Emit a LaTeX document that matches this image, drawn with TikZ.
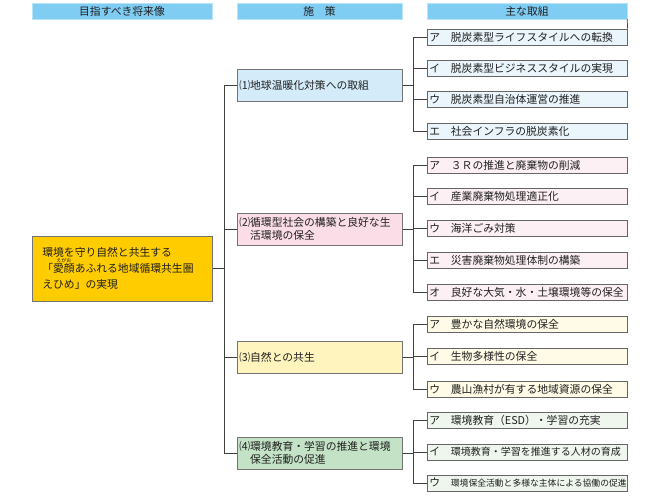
\documentclass[tikz,border=0pt]{standalone}
\usepackage{fontspec}
\setmainfont{Noto Sans CJK JP}
\usepackage{xcolor}
\usepackage{tikz}
\usetikzlibrary{positioning}
\usetikzlibrary{calc}

\definecolor{headblue}{HTML}{80CDF3}
\definecolor{goalgold}{HTML}{FFCC00}
\definecolor{blueA}{HTML}{D4ECFA}
\definecolor{blueB}{HTML}{EAF5FC}
\definecolor{pinkA}{HTML}{FBDDE8}
\definecolor{pinkB}{HTML}{FDF0F4}
\definecolor{yellowA}{HTML}{FFF4BD}
\definecolor{yellowB}{HTML}{FFFBE6}
\definecolor{greenA}{HTML}{C3E2C6}
\definecolor{greenB}{HTML}{EEF6EE}

\newcommand{\furi}[2]{\leavevmode\rlap{\makebox[2em]{\raisebox{0.95em}[0pt][0pt]{\fontsize{5}{5}\selectfont #2}}}#1}

\tikzset{
	jp/.style={font=\fontsize{10.8}{13}\selectfont, text=black!88},
	head/.style={jp, draw=headblue!55!white, fill=headblue, minimum height=16pt, inner sep=0pt},
	goal/.style={jp, draw=black!55, line width=0.7pt, fill=goalgold, text width=160pt, inner xsep=10pt, minimum height=65pt, align=left, anchor=west, font=\fontsize{10.8}{16}\selectfont},
	measure/.style={jp, draw=black!55, line width=0.7pt, text width=161pt, inner xsep=2pt, inner ysep=0pt, minimum height=32pt, align=left, anchor=west},
	item/.style={jp, draw=black!60, line width=0.6pt, text width=196pt, inner xsep=2pt, inner ysep=0pt, minimum height=16pt, align=left, anchor=west},
	branch/.style={draw=black!75, line width=0.7pt},
}

\begin{document}
\begin{tikzpicture}[x=1pt,y=-1pt]
		\useasboundingbox (0,0) rectangle (650,499);
		\node[head, minimum width=180pt] (h1) at (122,11) {目指すべき将来像};
		\node[head, minimum width=165pt] (h2) at (319.5,11) {施　策};
		\node[head, minimum width=200pt] (h3) at (527,11) {主な取組};
		
		\node[goal] (goal) at (32,268.5) {環境を守り自然と共生する\\「\furi{愛顔}{えがお}あふれる地域循環共生圏\\えひめ」の実現};
		
		\node[measure, fill=blueA] (m1) at (237,85) {⑴地球温暖化対策への取組};
		\node[measure, fill=pinkA] (m2) at (237,229) {⑵循環型社会の構築と良好な生\\\phantom{⑵}活環境の保全};
		\node[measure, fill=yellowA] (m3) at (237,357) {⑶自然との共生};
		\node[measure, fill=greenA] (m4) at (237,453) {⑷環境教育・学習の推進と環境\\\phantom{⑷}保全活動の促進};
		
		\node[item, fill=blueB] (a1) at (427,37) {ア　脱炭素型ライフスタイルへの転換};
		\node[item, fill=blueB] (b1) at (427,68) {イ　脱炭素型ビジネススタイルの実現};
		\node[item, fill=blueB] (c1) at (427,99) {ウ　脱炭素型自治体運営の推進};
		\node[item, fill=blueB] (d1) at (427,131) {エ　社会インフラの脱炭素化};
		
		\node[item, fill=pinkB] (a2) at (427,165) {ア　３Ｒの推進と廃棄物の削減};
		\node[item, fill=pinkB] (b2) at (427,196) {イ　産業廃棄物処理適正化};
		\node[item, fill=pinkB] (c2) at (427,228) {ウ　海洋ごみ対策};
		\node[item, fill=pinkB] (d2) at (427,260) {エ　災害廃棄物処理体制の構築};
		\node[item, fill=pinkB] (e2) at (427,292) {オ　良好な大気・水・土壌環境等の保全};
		
		\node[item, fill=yellowB] (a3) at (427,324) {ア　豊かな自然環境の保全};
		\node[item, fill=yellowB] (b3) at (427,356) {イ　生物多様性の保全};
		\node[item, fill=yellowB] (c3) at (427,389) {ウ　農山漁村が有する地域資源の保全};
		
		\node[item, fill=greenB] (a4) at (427,420) {ア　環境教育（ESD）・学習の充実};
		\node[item, fill=greenB] (b4) at (427,452) {イ　{\fontsize{10}{13}\selectfont 環境教育・学習を推進する人材の育成}};
		\node[item, fill=greenB] (c4) at (427,483) {ウ　{\fontsize{8.8}{13}\selectfont 環境保全活動と多様な主体による協働の促進}};
		
		\coordinate (barA) at (224,0);
		\coordinate (barB) at (413,0);
		
		\draw[branch] (h3.south east) -- (a1.north east);
		
		\draw[branch] (goal.east) -- (goal.east -| barA);
		\draw[branch] (m1.west) -- (m1.west -| barA) -- (m4.west -| barA) -- (m4.west);
		\draw[branch] (m2.west) -- (m2.west -| barA);
		\draw[branch] (m3.west) -- (m3.west -| barA);
		
		\draw[branch] (m1.east) -- (m1.east -| barB);
		\draw[branch] (a1.west) -- (a1.west -| barB) -- (d1.west -| barB) -- (d1.west);
		\draw[branch] (b1.west) -- (b1.west -| barB);
		\draw[branch] (c1.west) -- (c1.west -| barB);
		
		\draw[branch] (m2.east) -- (m2.east -| barB);
		\draw[branch] (a2.west) -- (a2.west -| barB) -- (e2.west -| barB) -- (e2.west);
		\draw[branch] (b2.west) -- (b2.west -| barB);
		\draw[branch] (c2.west) -- (c2.west -| barB);
		\draw[branch] (d2.west) -- (d2.west -| barB);
		
		\draw[branch] (m3.east) -- (m3.east -| barB);
		\draw[branch] (a3.west) -- (a3.west -| barB) -- (c3.west -| barB) -- (c3.west);
		\draw[branch] (b3.west) -- (b3.west -| barB);
		
		\draw[branch] (m4.east) -- (m4.east -| barB);
		\draw[branch] (a4.west) -- (a4.west -| barB) -- (c4.west -| barB) -- (c4.west);
		\draw[branch] (b4.west) -- (b4.west -| barB);
\end{tikzpicture}
\end{document}
